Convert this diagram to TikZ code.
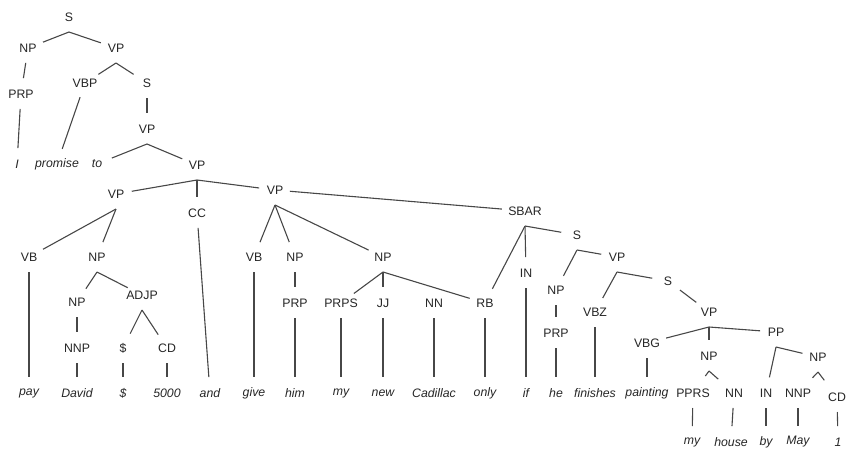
\documentclass[tikz,border=0pt]{standalone}
\usepackage{fontspec}
\setmainfont{Liberation Sans}
\usetikzlibrary{backgrounds}
\tikzset{
	cat/.style={fill=white, inner xsep=6pt, inner ysep=2pt, text=black!85, font=\fontsize{12.3}{14}\selectfont},
	word/.style={inner sep=1pt, text=black!85, font=\fontsize{12.3}{14}\selectfont\itshape},
	br/.style={draw=black!72, line width=1.1pt, shorten >=16pt},
	brs/.style={br, shorten >=21pt},
	unary/.style={br, shorten <=15pt},
}
\begin{document}
\begin{tikzpicture}[x=1pt, y=-1pt]
	\useasboundingbox (0,0) rectangle (848,448);

	% categories
	\node[cat] (s0) at (69,17) {S};
	\node[cat] (np0) at (28,48) {NP};
	\node[cat] (vp0) at (116,48) {VP};
	\node[cat] (prp0) at (21,94) {PRP};
	\node[cat] (vbp) at (85,83) {VBP};
	\node[cat] (s1) at (147,83) {S};
	\node[cat] (vp1) at (147,129) {VP};
	\node[cat] (vp2) at (197,165) {VP};
	\node[cat] (vp3) at (116,194) {VP};
	\node[cat] (cc) at (197,213) {CC};
	\node[cat] (vp4) at (275,190) {VP};
	\node[cat] (vb1) at (29,257) {VB};
	\node[cat] (np1) at (97,257) {NP};
	\node[cat] (np2) at (77,302) {NP};
	\node[cat] (adjp) at (142,295) {ADJP};
	\node[cat] (nnp1) at (77,348) {NNP};
	\node[cat] (dol) at (123,348) {\$};
	\node[cat] (cd1) at (167,348) {CD};
	\node[cat] (vb2) at (254,257) {VB};
	\node[cat] (np3) at (295,257) {NP};
	\node[cat] (np4) at (383,257) {NP};
	\node[cat] (prp1) at (295,303) {PRP};
	\node[cat] (prps) at (341,303) {PRPS};
	\node[cat] (jj) at (383,303) {JJ};
	\node[cat] (nn1) at (434,303) {NN};
	\node[cat] (rb) at (485,303) {RB};
	\node[cat] (sbar) at (525,211) {SBAR};
	\node[cat] (in1) at (526,273) {IN};
	\node[cat] (s2) at (577,235) {S};
	\node[cat] (np5) at (556,290) {NP};
	\node[cat] (prp2) at (556,333) {PRP};
	\node[cat] (vp5) at (617,257) {VP};
	\node[cat] (vbz) at (595,312) {VBZ};
	\node[cat] (s3) at (668,281) {S};
	\node[cat] (vp6) at (709,312) {VP};
	\node[cat] (vbg) at (647,343) {VBG};
	\node[cat] (np6) at (709,356) {NP};
	\node[cat] (pp) at (776,332) {PP};
	\node[cat] (pprs) at (693,393) {PPRS};
	\node[cat] (nn2) at (734,393) {NN};
	\node[cat] (in2) at (766,393) {IN};
	\node[cat] (np7) at (818,357) {NP};
	\node[cat] (nnp2) at (798,393) {NNP};
	\node[cat] (cd2) at (837,397) {CD};

	% words
	\node[word] (wI) at (17,164) {I};
	\node[word] (wpromise) at (57,164) {promise};
	\node[word] (wto) at (97,164) {to};
	\node[word] (wpay) at (29,393) {pay};
	\node[word] (wdavid) at (77,393) {David};
	\node[word] (wdol) at (123,393) {\$};
	\node[word] (w5000) at (167,393) {5000};
	\node[word] (wand) at (210,393) {and};
	\node[word] (wgive) at (254,393) {give};
	\node[word] (whim) at (295,393) {him};
	\node[word] (wmy) at (341,393) {my};
	\node[word] (wnew) at (383,393) {new};
	\node[word] (wcadillac) at (434,393) {Cadillac};
	\node[word] (wonly) at (485,393) {only};
	\node[word] (wif) at (526,393) {if};
	\node[word] (whe) at (556,393) {he};
	\node[word] (wfinishes) at (595,393) {finishes};
	\node[word] (wpainting) at (647,393) {painting};
	\node[word] (wmy2) at (692,442) {my};
	\node[word] (whouse) at (731,442) {house};
	\node[word] (wby) at (766,442) {by};
	\node[word] (wmay) at (798,442) {May};
	\node[word] (wone) at (838,442) {1};

	% junctions under the branching nodes
	\foreach \n in {s0,vp0,vp1,vp2,vp3,vp4,np1,adjp,np4,sbar,s2,vp5,vp6,np6,pp,np7}
		\coordinate (\n-j) at ([yshift=-15pt]\n.center);

	\begin{scope}[on background layer]
		\foreach \a/\b in {s0/np0,s0/vp0,vp0/vbp,vp0/s1,vp1/wto,vp1/vp2,vp2/vp3,vp2/cc,vp2/vp4,
			vp3/vb1,vp3/np1,np1/np2,np1/adjp,adjp/dol,adjp/cd1,vp4/vb2,vp4/np3,vp4/np4,
			np4/prps,np4/jj,np4/rb,sbar/rb,sbar/in1,sbar/s2,s2/np5,s2/vp5,vp5/vbz,vp5/s3,
			vp6/vbg,vp6/np6,vp6/pp,pp/in2,pp/np7}
			\draw[br] (\a-j.center) -- (\b.center);
		\foreach \a/\b in {np6/pprs,np6/nn2,np7/nnp2,np7/cd2}
			\draw[brs] (\a-j.center) -- (\b.center);
		\foreach \a/\b in {np0/prp0,prp0/wI,vbp/wpromise,s1/vp1,vp4/sbar,vb1/wpay,np2/nnp1,nnp1/wdavid,
			dol/wdol,cd1/w5000,cc/wand,vb2/wgive,np3/prp1,prp1/whim,prps/wmy,jj/wnew,
			nn1/wcadillac,rb/wonly,in1/wif,np5/prp2,prp2/whe,vbz/wfinishes,s3/vp6,
			vbg/wpainting,pprs/wmy2,nn2/whouse,in2/wby,nnp2/wmay,cd2/wone}
			\draw[unary] (\a.center) -- (\b.center);
	\end{scope}
\end{tikzpicture}
\end{document}
